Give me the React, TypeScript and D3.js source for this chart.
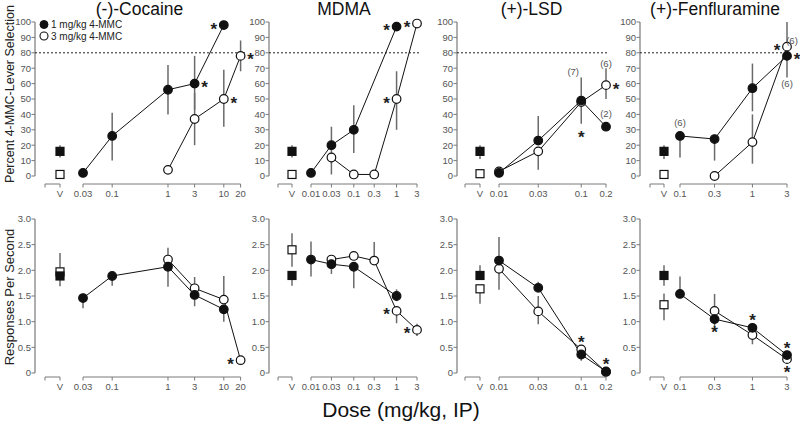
import React from 'react';
import * as d3 from 'd3';

// ---------- DATA ----------
const titles = ['(-)-Cocaine', 'MDMA', '(+)-LSD', '(+)-Fenfluramine'];
const doseTicks = [
  [0.03, 0.1, 1, 3, 10, 20],
  [0.01, 0.03, 0.1, 0.3, 1, 3],
  [0.01, 0.03, 0.1, 0.2],
  [0.1, 0.3, 1, 3],
];
const doseTickLabels = [
  ['0.03', '0.1', '1', '3', '10', '20'],
  ['0.01', '0.03', '0.1', '0.3', '1', '3'],
  ['0.01', '0.03', '0.1', '0.2'],
  ['0.1', '0.3', '1', '3'],
];
const selTicks = [0, 10, 20, 30, 40, 50, 60, 70, 80, 90, 100];
const rateTicks = [0, 0.5, 1, 1.5, 2, 2.5, 3];
const rateTickLabels = ['0', '0.5', '1.0', '1.5', '2.0', '2.5', '3.0'];
const legendLabels = ['1 mg/kg 4-MMC', '3 mg/kg 4-MMC'];

// series rows: [dose, mean, lowerEnd, upperEnd]
const cocSelFilled = [[0.03, 2, 2, 2], [0.1, 26, 10, 41], [1, 56, 40, 72], [3, 60, 43, 78], [10, 98, 98, 98]];
const cocSelOpen = [[1, 4, 4, 4], [3, 37, 20, 54], [10, 50, 32, 69], [20, 78, 68, 88]];
const mdmaSelFilled = [[0.01, 2, 2, 2], [0.03, 20, 8, 32], [0.1, 30, 15, 46], [1, 97, 97, 97]];
const mdmaSelOpen = [[0.03, 12, 1, 12], [0.1, 1, 1, 1], [0.3, 1, 1, 1], [1, 50, 30, 68], [3, 99, 99, 99]];
const lsdSelFilled = [[0.01, 2, 2, 2], [0.03, 23, 23, 39], [0.1, 49, 34, 64], [0.2, 32, 32, 32]];
const lsdSelOpen = [[0.01, 3, 3, 3], [0.03, 16, 4, 16], [0.1, 48, 48, 48], [0.2, 59, 50, 70]];
const fenSelFilled = [[0.1, 26, 12, 26], [0.3, 24, 10, 24], [1, 57, 42, 73], [3, 78, 64, 78]];
const fenSelOpen = [[0.3, 0, 0, 0], [1, 22, 8, 40], [3, 84, 84, 100]];

const cocRateFilled = [[0.03, 1.46, 1.26, 1.46], [0.1, 1.89, 1.7, 1.89], [1, 2.07, 1.68, 2.07], [3, 1.52, 1.3, 1.52], [10, 1.24, 1.0, 1.24]];
const cocRateOpen = [[1, 2.21, 2.21, 2.44], [3, 1.65, 1.65, 1.87], [10, 1.43, 1.43, 1.89], [20, 0.25, 0.25, 0.25]];
const mdmaRateFilled = [[0.01, 2.21, 1.88, 2.56], [0.03, 2.12, 1.93, 2.12], [0.1, 2.07, 1.65, 2.07], [1, 1.5, 1.4, 1.63]];
const mdmaRateOpen = [[0.03, 2.21, 2.21, 2.21], [0.1, 2.28, 2.28, 2.28], [0.3, 2.19, 2.19, 2.55], [1, 1.21, 0.97, 1.21], [3, 0.84, 0.72, 0.96]];
const lsdRateFilled = [[0.01, 2.19, 2.19, 2.65], [0.03, 1.66, 1.66, 1.78], [0.1, 0.36, 0.24, 0.36], [0.2, 0.03, 0.03, 0.03]];
const lsdRateOpen = [[0.01, 2.03, 1.62, 2.03], [0.03, 1.2, 0.95, 1.5], [0.1, 0.46, 0.46, 0.46], [0.2, 0.02, 0.02, 0.02]];
const fenRateFilled = [[0.1, 1.54, 1.54, 1.88], [0.3, 1.05, 0.85, 1.05], [1, 0.88, 0.88, 0.88], [3, 0.35, 0.35, 0.35]];
const fenRateOpen = [[0.3, 1.21, 1.21, 1.54], [1, 0.74, 0.56, 0.74], [3, 0.27, 0.27, 0.27]];

// vehicle rows: [mean, lowerEnd, upperEnd]
const vehSelFilled = [[16, 12, 20], [16, 12, 20], [16, 11, 20], [16, 11, 20]];
const vehSelOpen = [[1, 1, 1], [1, 1, 1], [1.5, 1.5, 1.5], [1, 1, 1]];
const vehRateFilled = [[1.89, 1.69, 1.89], [1.9, 1.7, 1.9], [1.9, 1.9, 2.1], [1.9, 1.7, 2.1]];
const vehRateOpen = [[1.97, 1.97, 2.34], [2.4, 2.07, 2.72], [1.64, 1.35, 1.64], [1.33, 1.03, 1.55]];

const selFilled = [cocSelFilled, mdmaSelFilled, lsdSelFilled, fenSelFilled];
const selOpen = [cocSelOpen, mdmaSelOpen, lsdSelOpen, fenSelOpen];
const rateFilled = [cocRateFilled, mdmaRateFilled, lsdRateFilled, fenRateFilled];
const rateOpen = [cocRateOpen, mdmaRateOpen, lsdRateOpen, fenRateOpen];

// significance stars: [series ('f'|'o'), dose, side]
const selStars = [
  [['f', 3, 'r'], ['f', 10, 'l'], ['o', 10, 'r'], ['o', 20, 'r']],
  [['f', 1, 'l'], ['o', 1, 'l'], ['o', 3, 'l']],
  [['o', 0.1, 'bb'], ['o', 0.2, 'r']],
  [['f', 3, 'r'], ['o', 3, 'l']],
];
const rateStars = [
  [['o', 20, 'l']],
  [['o', 1, 'l'], ['o', 3, 'l']],
  [['o', 0.1, 'a'], ['f', 0.2, 'a']],
  [['f', 0.3, 'b'], ['f', 1, 'a'], ['f', 3, 'a'], ['o', 3, 'b']],
];
// n labels: [series, dose, text, side]
const selNLabels = [
  [],
  [],
  [['o', 0.1, '(7)', 'aa'], ['o', 0.2, '(6)', 'am'], ['f', 0.2, '(2)', 'a']],
  [['f', 0.1, '(6)', 'a'], ['f', 3, '(6)', 'bb'], ['o', 3, '(6)', 'ar']],
];

// ---------- LAYOUT ----------
const W = 800, H = 425;
const FONT = 'Liberation Sans, Arial, Helvetica, sans-serif';
const layout = [
  { axisX: 35, vehLeft: 45, vehX: 60, logRange: [83, 240.6], dotEnd: 246 },
  { axisX: 269, vehLeft: 278, vehX: 292, logRange: [311, 417], dotEnd: 421 },
  { axisX: 457, vehLeft: 465, vehX: 480, logRange: [499, 606], dotEnd: 608 },
  { axisX: 640, vehLeft: 650, vehX: 664, logRange: [680, 787], dotEnd: 792 },
];
const topY = d3.scaleLinear().domain([0, 100]).range([176, 22]);
const botY = d3.scaleLinear().domain([0, 3]).range([373, 219]);
const topAxisY = 184;
const botAxisY = 377;
const R = 4.3;
const ERR = '#6a6a6a';
const AX = '#7a7a7a';
const TXT = '#555';

const sideOffset = (side: string) => {
  switch (side) {
    case 'r': return [10, 0];
    case 'l': return [-10, 0];
    case 'a': return [0, -11];
    case 'b': return [0, 9];
    case 'bb': return [0, 31];
    default: return [0, 0];
  }
};
const labelOffset = (side: string) => {
  switch (side) {
    case 'a': return [0, -13];
    case 'aa': return [-8, -30];
    case 'am': return [0, -21];
    case 'bb': return [0, 28];
    case 'ar': return [5, -6];
    default: return [0, 0];
  }
};

function Star({ x, y }: { x: number; y: number }) {
  return (
    <text x={x} y={y + 9.5} textAnchor="middle" fontFamily={FONT} fontWeight="bold" fontSize={17} fill="#222">*</text>
  );
}

function Panel({ i, top }: { i: number; top: boolean }) {
  const L = layout[i];
  const y = top ? topY : botY;
  const axisY = top ? topAxisY : botAxisY;
  const ticks = doseTicks[i];
  const x = d3.scaleLog().domain([ticks[0], ticks[ticks.length - 1]]).range(L.logRange);
  const filled = (top ? selFilled : rateFilled)[i];
  const open = (top ? selOpen : rateOpen)[i];
  const vf = (top ? vehSelFilled : vehRateFilled)[i];
  const vo = (top ? vehSelOpen : vehRateOpen)[i];
  const yTicks = top ? selTicks : rateTicks;
  const yLabels = top ? selTicks.map(String) : rateTickLabels;
  const line = d3.line<number[]>().x(d => x(d[0])).y(d => y(d[1]));
  const stars = (top ? selStars : rateStars)[i];
  const nLabels = top ? selNLabels[i] : [];
  const find = (s: string, d: number) => (s === 'f' ? filled : open).find(r => r[0] === d)!;
  const [ymin, ymax] = y.domain();

  return (
    <g>
      {top && (
        <text x={(L.axisX + L.dotEnd) / 2 - 1} y={15} textAnchor="middle" fontFamily={FONT} fontSize={17.5} fill="#111">{titles[i]}</text>
      )}
      {/* y axis */}
      <line x1={L.axisX} x2={L.axisX} y1={y(ymin)} y2={y(ymax)} stroke={AX} strokeWidth={1.2} />
      {yTicks.map((t, k) => (
        <g key={k}>
          <line x1={L.axisX - 3.5} x2={L.axisX} y1={y(t)} y2={y(t)} stroke={AX} strokeWidth={1} />
          <text x={L.axisX - 4} y={y(t) + 3.3} textAnchor="end" fontFamily={FONT} fontSize={9.5} fill={TXT}>{yLabels[k]}</text>
        </g>
      ))}
      {/* x axis: vehicle */}
      <line x1={L.vehLeft} x2={L.vehX} y1={axisY} y2={axisY} stroke={AX} strokeWidth={1} />
      <line x1={L.vehLeft} x2={L.vehLeft} y1={axisY} y2={axisY + 3.5} stroke={AX} />
      <line x1={L.vehX} x2={L.vehX} y1={axisY} y2={axisY + 3.5} stroke={AX} />
      <text x={L.vehX} y={axisY + 13} textAnchor="middle" fontFamily={FONT} fontSize={9.5} fill={TXT}>V</text>
      {/* x axis: doses */}
      <line x1={L.logRange[0]} x2={L.logRange[1]} y1={axisY} y2={axisY} stroke={AX} strokeWidth={1} />
      {ticks.map((t, k) => (
        <g key={k}>
          <line x1={x(t)} x2={x(t)} y1={axisY} y2={axisY + 3.5} stroke={AX} />
          <text x={x(t)} y={axisY + 13} textAnchor="middle" fontFamily={FONT} fontSize={9.5} fill={TXT}>{doseTickLabels[i][k]}</text>
        </g>
      ))}
      {top && (
        <line x1={L.axisX} x2={L.dotEnd} y1={y(80)} y2={y(80)} stroke="#222" strokeWidth={1} strokeDasharray="2,2" />
      )}
      {/* lines */}
      <path d={line(filled as number[][])!} fill="none" stroke="#111" strokeWidth={1} />
      <path d={line(open as number[][])!} fill="none" stroke="#111" strokeWidth={1} />
      {/* error bars */}
      {[...filled, ...open].map((r, k) => (
        r[2] !== r[3] ? <line key={k} x1={x(r[0])} x2={x(r[0])} y1={y(r[2])} y2={y(r[3])} stroke={ERR} strokeWidth={1.5} /> : null
      ))}
      {[vf, vo].map((r, k) => (
        r[1] !== r[2] ? <line key={'v' + k} x1={L.vehX} x2={L.vehX} y1={y(r[1])} y2={y(r[2])} stroke={ERR} strokeWidth={1.5} /> : null
      ))}
      {/* markers */}
      <rect x={L.vehX - 4} y={y(vo[0]) - 4} width={8} height={8} fill="#fff" stroke="#111" strokeWidth={1.2} />
      <rect x={L.vehX - 4} y={y(vf[0]) - 4} width={8} height={8} fill="#111" stroke="#111" strokeWidth={1.2} />
      {open.map((r, k) => (
        <circle key={'o' + k} cx={x(r[0])} cy={y(r[1])} r={R} fill="#fff" stroke="#111" strokeWidth={1.2} />
      ))}
      {filled.map((r, k) => (
        <circle key={'f' + k} cx={x(r[0])} cy={y(r[1])} r={R} fill="#111" stroke="#111" strokeWidth={1.2} />
      ))}
      {stars.map((s, k) => {
        const r = find(s[0] as string, s[1] as number);
        const [dx, dy] = sideOffset(s[2] as string);
        return <Star key={'s' + k} x={x(r[0]) + dx} y={y(r[1]) + dy} />;
      })}
      {nLabels.map((s, k) => {
        const r = find(s[0] as string, s[1] as number);
        const [dx, dy] = labelOffset(s[3] as string);
        return (
          <text key={'n' + k} x={x(r[0]) + dx} y={y(r[1]) + dy + 3.3} textAnchor="middle" fontFamily={FONT} fontSize={9.5} fill={TXT}>{s[2]}</text>
        );
      })}
    </g>
  );
}

export default function App() {
  return (
    <svg width={W} height={H} style={{ position: 'absolute', left: 0, top: 0, background: '#fff' }}>
      <rect width={W} height={H} fill="#fff" />
      {[0, 1, 2, 3].map(i => <Panel key={'t' + i} i={i} top={true} />)}
      {[0, 1, 2, 3].map(i => <Panel key={'b' + i} i={i} top={false} />)}
      {/* legend */}
      <circle cx={44} cy={24.5} r={4} fill="#111" stroke="#111" />
      <text x={51} y={28} fontFamily={FONT} fontSize={10} fill="#222">{legendLabels[0]}</text>
      <circle cx={44} cy={36} r={4} fill="#fff" stroke="#111" strokeWidth={1.1} />
      <text x={51} y={39.5} fontFamily={FONT} fontSize={10} fill="#222">{legendLabels[1]}</text>
      {/* axis titles */}
      <text transform="translate(14,94) rotate(-90)" textAnchor="middle" fontFamily={FONT} fontSize={12.5} fill="#222">Percent 4-MMC-Lever Selection</text>
      <text transform="translate(14,297) rotate(-90)" textAnchor="middle" fontFamily={FONT} fontSize={13} fill="#222">Responses Per Second</text>
      <text x={401} y={417} textAnchor="middle" fontFamily={FONT} fontSize={21} fill="#111">Dose (mg/kg, IP)</text>
    </svg>
  );
}
